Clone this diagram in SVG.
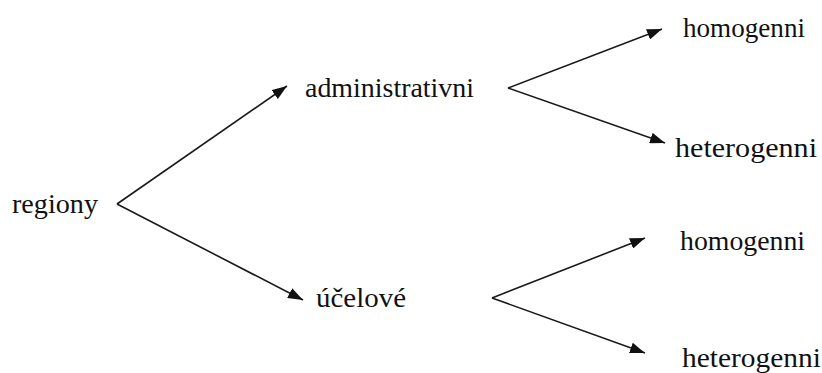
<svg xmlns="http://www.w3.org/2000/svg" width="822" height="373" viewBox="0 0 822 373">
<style>
text{font-family:"Liberation Serif","Times New Roman","DejaVu Serif",serif;font-size:27px;fill:#111}
.c line{stroke:#1a1a1a;stroke-width:1.6;fill:none}
</style>
<defs>
<marker id="ah" viewBox="0 0 15 11" refX="15" refY="5.5" markerWidth="15" markerHeight="11" markerUnits="userSpaceOnUse" orient="auto">
<path d="M0,0 L15,5.5 L0,11 Z" fill="#111"/>
</marker>
</defs>
<rect width="822" height="373" fill="#fff"/>
<g id="n-regiony"><text x="12" y="213" textLength="86" lengthAdjust="spacingAndGlyphs">regiony</text></g>
<g id="n-administrativni"><text x="305" y="97" textLength="169" lengthAdjust="spacingAndGlyphs">administrativni</text></g>
<g id="n-ucelove"><text x="316" y="307" textLength="90" lengthAdjust="spacingAndGlyphs">účelové</text></g>
<g id="n-homogenni1"><text x="683" y="37" textLength="122" lengthAdjust="spacingAndGlyphs">homogenni</text></g>
<g id="n-heterogenni1"><text x="675" y="157" textLength="142" lengthAdjust="spacingAndGlyphs">heterogenni</text></g>
<g id="n-homogenni2"><text x="680" y="250" textLength="125" lengthAdjust="spacingAndGlyphs">homogenni</text></g>
<g id="n-heterogenni2"><text x="682" y="367" textLength="139" lengthAdjust="spacingAndGlyphs">heterogenni</text></g>
<g class="c" id="connectors">
<line x1="117" y1="204" x2="287" y2="86" marker-end="url(#ah)"/>
<line x1="117" y1="204" x2="303" y2="300" marker-end="url(#ah)"/>
<line x1="508" y1="88" x2="662" y2="29" marker-end="url(#ah)"/>
<line x1="508" y1="88" x2="665" y2="143" marker-end="url(#ah)"/>
<line x1="492" y1="298" x2="645" y2="238" marker-end="url(#ah)"/>
<line x1="492" y1="298" x2="645" y2="353" marker-end="url(#ah)"/>
</g>
</svg>
